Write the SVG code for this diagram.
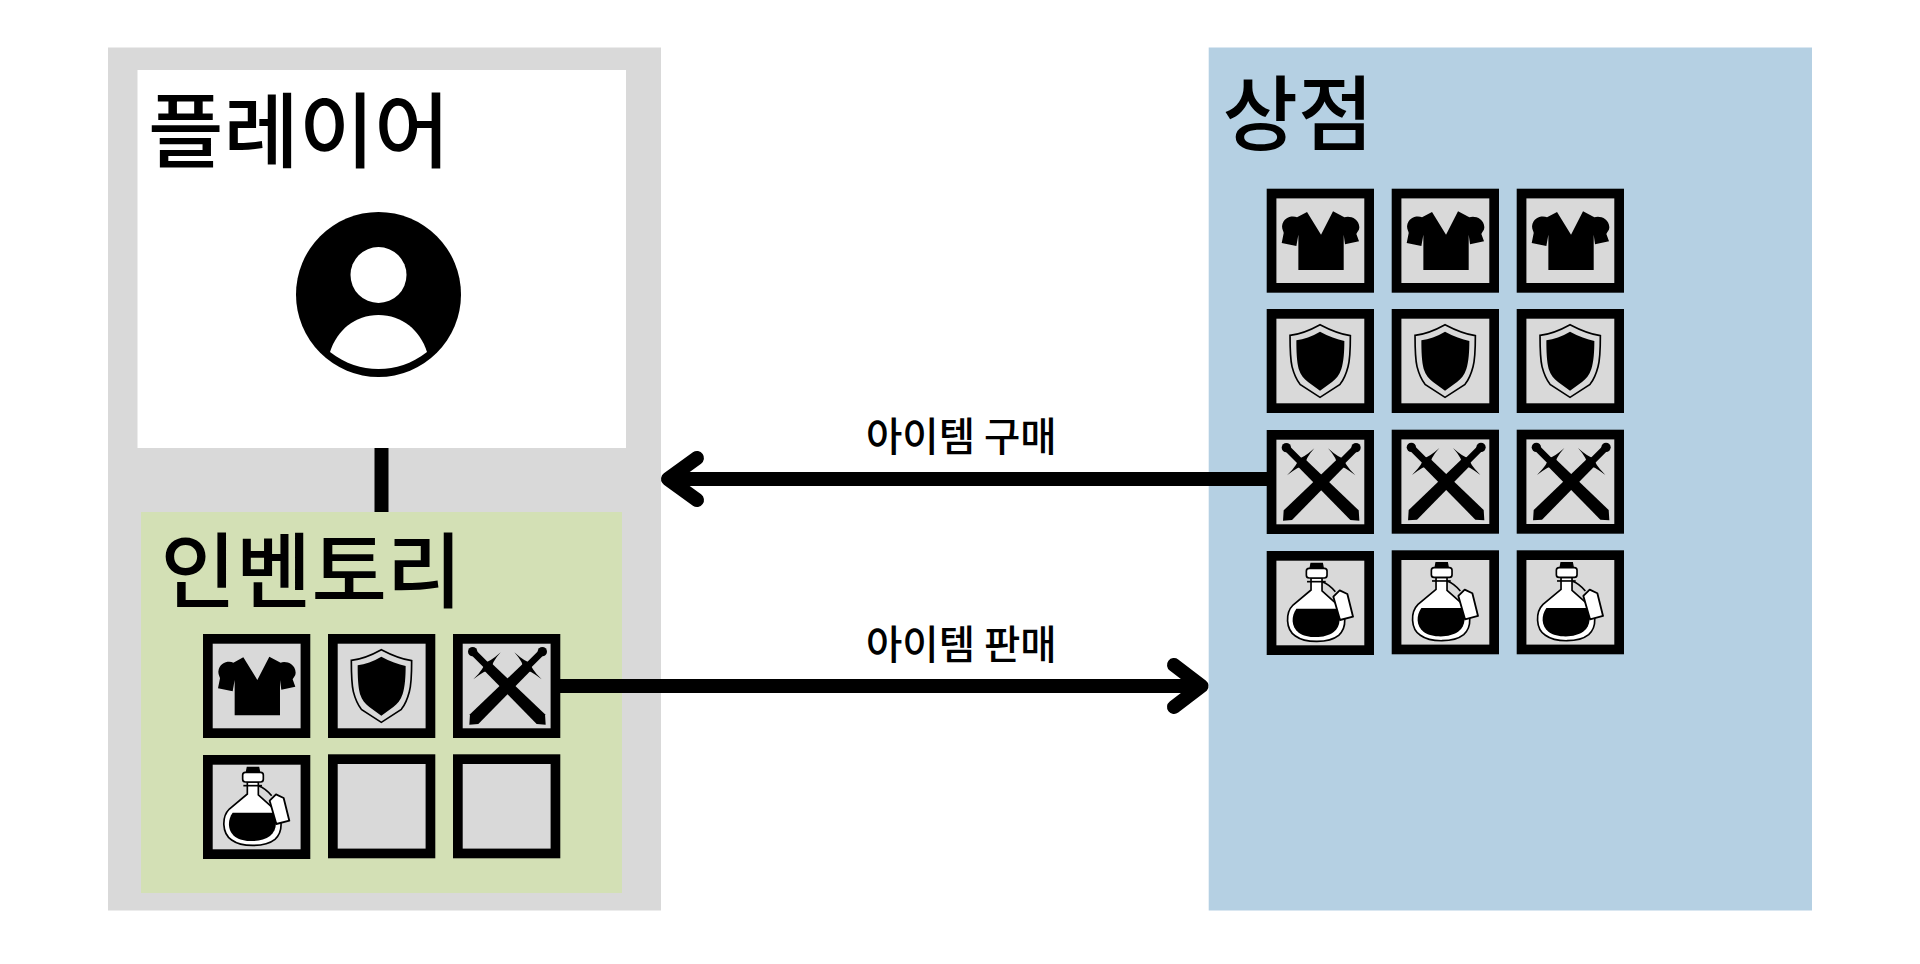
<svg xmlns="http://www.w3.org/2000/svg" width="1920" height="964" viewBox="0 0 1920 964">
<style>
.t{font-family:"Noto Sans CJK KR","Noto Sans",sans-serif;font-weight:500;fill:#000}
.h{font-size:82px}
.l{font-size:39.5px}
.slot{fill:#d9d9d9;stroke:#000;stroke-width:9.7}
.conn{fill:none;stroke:#000;stroke-width:14;stroke-linecap:butt}
.head{fill:none;stroke:#000;stroke-width:14;stroke-linecap:round;stroke-linejoin:round}
</style>
<defs>
<rect id="slot" class="slot" x="4.85" y="4.85" width="97.6" height="94.3"/>
<g id="shirt" transform="scale(.3333) translate(-39,-42)">
<path d="M160,112L202,180L238,110L272,128C284,122 316,128 317,158C317,168 310,172 308,178L316,200L274,209L270,180V286H134V180L128,214L84,205L90,175C90,170 85,165 85,155C88,125 118,122 130,128Z"/>
</g>
<g id="shield" transform="scale(.3333) translate(-414,-42)">
<path d="M574,89C610,108 640,118 665,122C665,160 665,190 658,215C652,238 645,254 634,268L574,307L514,268C503,254 496,238 490,215C484,190 484,160 484,121C510,118 540,108 574,89Z" fill="none" stroke="#000" stroke-width="5"/>
<path d="M574,110C600,124 625,133 647,138C647,170 645,200 638,222C632,240 622,252 610,261L574,287L538,261C526,252 516,240 510,222C504,200 503,170 503,136C525,133 550,124 574,110Z"/>
</g>
<g id="sword">
<circle cx="1057" cy="95" r="14"/>
<path d="M1057,95L1015,137" stroke="#000" stroke-width="20" fill="none"/>
<path d="M1005,125L1027,147L865,312L838,314L840,283Z"/>
<path d="M973,97Q1005,126 1022,128Q1020,143 1055,178Q1018,148 1000,150Q1003,130 973,97Z"/>
</g>
<g id="swords" transform="scale(.3333) translate(-789,-42)">
<use href="#sword"/>
<use href="#sword" transform="translate(1905,0) scale(-1,1)"/>
</g>
<g id="potion" transform="scale(.3333) translate(-39,-405)">
<path d="M172,442H206L209,458H169Z" stroke="#000" stroke-width="4"/>
<path d="M205,497C222,503 235,515 245,527" fill="none" stroke="#000" stroke-width="5"/>
<path d="M172,486V522L118,567C95,590 95,640 125,660C155,682 225,682 255,658C280,635 280,590 250,565L205,525V486Z" fill="#fff" stroke="#000" stroke-width="5"/>
<rect x="158" y="457" width="62" height="29" rx="8" fill="#fff" stroke="#000" stroke-width="5"/>
<path d="M160,497H216" stroke="#000" stroke-width="5"/>
<path d="M128,578H248C262,600 262,630 240,648C215,668 160,668 135,650C112,632 112,600 128,578Z"/>
<path d="M239,542L258,523L281,534L298,602L259,612Z" fill="#fff" stroke="#000" stroke-width="5.5" stroke-linejoin="round"/>
</g>
</defs>
<rect width="1920" height="964" fill="#fff"/>
<g id="player-panel">
<rect x="108" y="47.5" width="553" height="863" fill="#d9d9d9"/>
</g>
<g id="player">
<rect x="137.5" y="70" width="488.5" height="378" fill="#fff"/>
<text class="t h" x="148" y="161">플레이어</text>
<circle cx="378.5" cy="294.5" r="82.5"/>
<circle cx="378.5" cy="275" r="28" fill="#fff"/>
<path d="M330,352C337,330 355,315 378.5,315C402,315 420,330 427,352C411,364 396,369 378.5,369C361,369 346,364 330,352Z" fill="#fff"/>
</g>
<g id="inventory">
<rect x="141" y="512" width="481" height="381" fill="#d3e0b5"/>
<text class="t h" x="160.5" y="601">인벤토리</text>
<g id="inv-shirt" transform="translate(203,634)"><use href="#slot"/><use href="#shirt"/></g>
<g id="inv-shield" transform="translate(328,634)"><use href="#slot"/><use href="#shield"/></g>
<g id="inv-swords" transform="translate(453,634)"><use href="#slot"/><use href="#swords"/></g>
<g id="inv-potion" transform="translate(203,755)"><use href="#slot"/><use href="#potion"/></g>
<g id="inv-empty1" transform="translate(328,754.3)"><use href="#slot"/></g>
<g id="inv-empty2" transform="translate(453,754.3)"><use href="#slot"/></g>
</g>
<g id="shop">
<rect x="1208.7" y="47.5" width="603.3" height="863" fill="#b5d0e3"/>
<text class="t h" x="1222.5" y="144">상점</text>
<g id="shop-shirt1" transform="translate(1266.7,188.7)"><use href="#slot"/><use href="#shirt"/></g>
<g id="shop-shirt2" transform="translate(1391.7,188.7)"><use href="#slot"/><use href="#shirt"/></g>
<g id="shop-shirt3" transform="translate(1516.7,188.7)"><use href="#slot"/><use href="#shirt"/></g>
<g id="shop-shield1" transform="translate(1266.7,309)"><use href="#slot"/><use href="#shield"/></g>
<g id="shop-shield2" transform="translate(1391.7,309)"><use href="#slot"/><use href="#shield"/></g>
<g id="shop-shield3" transform="translate(1516.7,309)"><use href="#slot"/><use href="#shield"/></g>
<g id="shop-swords1" transform="translate(1266.7,430)"><use href="#slot"/><use href="#swords"/></g>
<g id="shop-swords2" transform="translate(1391.7,429.7)"><use href="#slot"/><use href="#swords"/></g>
<g id="shop-swords3" transform="translate(1516.7,429.7)"><use href="#slot"/><use href="#swords"/></g>
<g id="shop-potion1" transform="translate(1266.7,551)"><use href="#slot"/><use href="#potion"/></g>
<g id="shop-potion2" transform="translate(1391.7,550.3)"><use href="#slot"/><use href="#potion"/></g>
<g id="shop-potion3" transform="translate(1516.7,550.3)"><use href="#slot"/><use href="#potion"/></g>
</g>
<g id="connectors">
<path class="conn" d="M381.5,448V512"/>
<path class="conn" d="M1267,479H668"/>
<path class="head" d="M697,458L668,479L697,500"/>
<path class="conn" d="M560,686H1202"/>
<path class="head" d="M1174,665L1201.5,686L1174,707"/>
</g>
<g id="labels">
<text class="t l" x="866" y="450.5">아이템 구매</text>
<text class="t l" x="866" y="658.5">아이템 판매</text>
</g>
</svg>
